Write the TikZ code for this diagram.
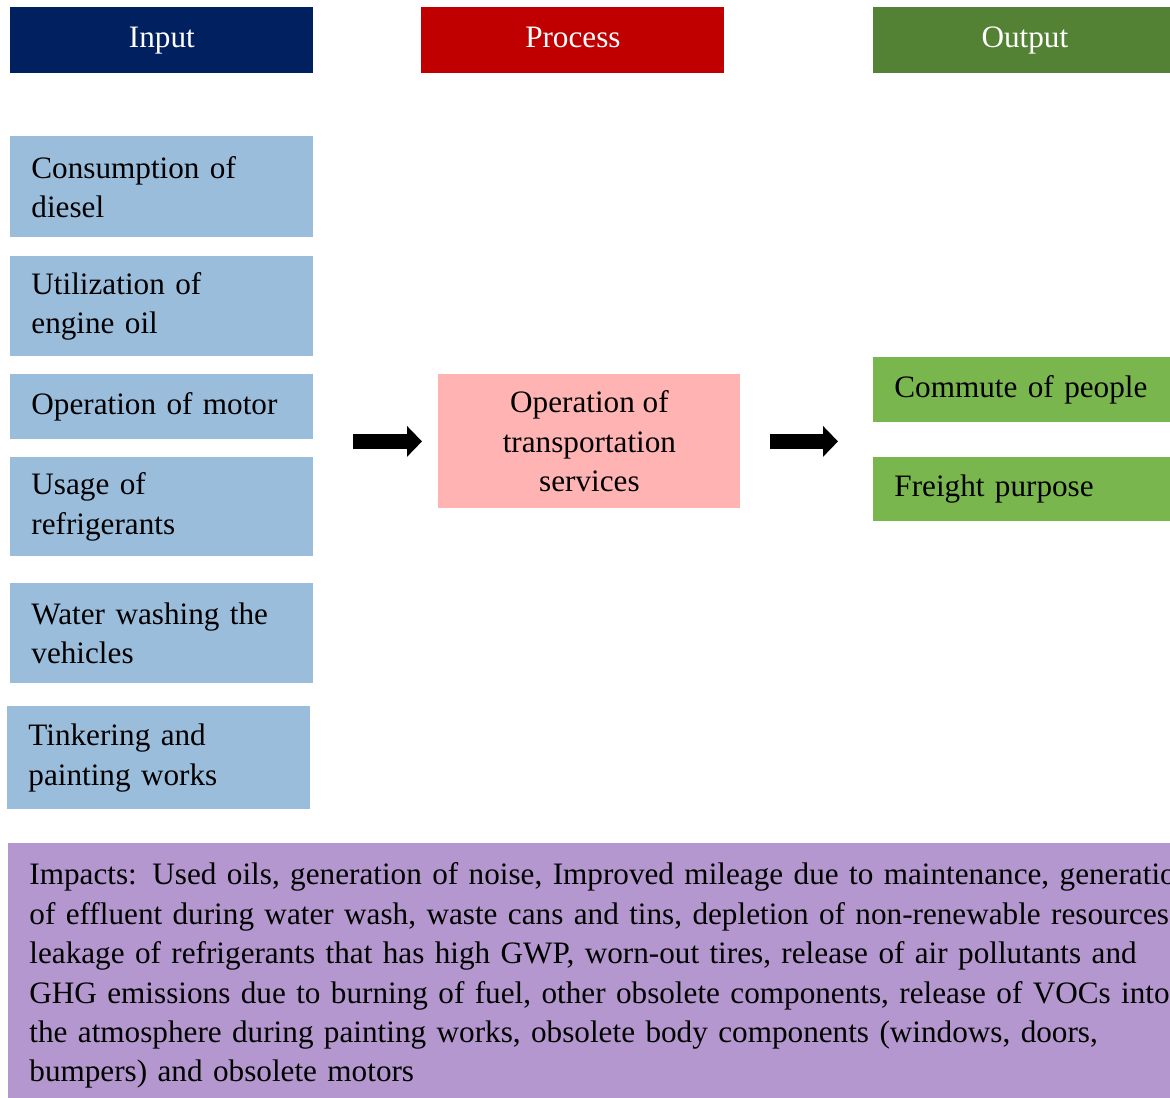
\documentclass[tikz,border=0pt]{standalone}
\usepackage{fontspec}
\setmainfont{Liberation Serif}
\usetikzlibrary{arrows.meta}

\definecolor{hdrblue}{RGB}{0,32,96}
\definecolor{hdrred}{RGB}{192,0,0}
\definecolor{hdrgreen}{RGB}{84,130,53}
\definecolor{inblue}{RGB}{155,189,220}
\definecolor{procpink}{RGB}{255,179,179}
\definecolor{outgreen}{RGB}{122,182,78}
\definecolor{imppurple}{RGB}{180,151,206}

\begin{document}
\begin{tikzpicture}[x=0.5pt,y=-0.5pt,
    every node/.style={font=\fontsize{15.6pt}{19.7pt}\selectfont, inner sep=0pt},
    hdr/.style={anchor=north west, minimum width=151.5pt, minimum height=33pt, text=white,
        text height=11pt, text depth=4pt},
    inbox/.style={anchor=north west, fill=inblue, text width=130.5pt, inner xsep=10.5pt, align=left},
    outbox/.style={anchor=north west, fill=outgreen, text width=139pt, inner xsep=10.5pt, align=left},
    bigarrow/.style={line width=7.5pt, -{Triangle[length=7.5pt,width=15pt]}}]

    \useasboundingbox (0,0) rectangle (1170,1097);
    \clip (0,0) rectangle (1170,1097);

    % Column headers
    \node[hdr, fill=hdrblue] (hin) at (10,7) {Input};
    \node[hdr, fill=hdrred] (hproc) at (421,7) {Process};
    \node[hdr, fill=hdrgreen] (hout) at (873,7) {Output};

    % Inputs
    \node[inbox, minimum height=50.5pt] (diesel) at (10,136) {Consumption of\\diesel};
    \node[inbox, minimum height=50pt] (oil) at (10,256) {Utilization of\\engine oil};
    \node[inbox, minimum height=32.5pt] (motor) at (10,374) {Operation of motor};
    \node[inbox, minimum height=49.5pt] (refrig) at (10,457) {Usage of\\refrigerants};
    \node[inbox, minimum height=50pt] (wash) at (10,583) {Water washing the\\vehicles};
    \node[inbox, minimum height=51.5pt] (paint) at (7,706) {Tinkering and\\painting works};

    % Process
    \node[anchor=north west, fill=procpink, minimum width=151pt, minimum height=67pt, align=center,
        text depth=0pt] (proc) at (438,374) {Operation of\\transportation\\services};

    % Outputs
    \node[outbox, minimum height=32.5pt] (commute) at (873,357) {Commute of people};
    \node[outbox, minimum height=32pt] (freight) at (873,457) {Freight purpose};

    % Flow arrows
    \draw[bigarrow, shorten <=19.5pt, shorten >=8pt] (motor.east |- proc.west) -- (proc.west);
    \draw[bigarrow, shorten <=14.5pt, shorten >=17.5pt] (proc.east) -- (proc.east -| commute.west);

    % Impacts
    \node[anchor=north west, fill=imppurple, text width=660pt, inner xsep=10.5pt,
        inner ysep=9.8pt, align=left] (impacts) at (8,843)
        {Impacts: Used oils, generation of noise, Improved mileage due to maintenance, generation\\
        of effluent during water wash, waste cans and tins, depletion of non-renewable resources,\\
        leakage of refrigerants that has high GWP, worn-out tires, release of air pollutants and\\
        GHG emissions due to burning of fuel, other obsolete components, release of VOCs into\\
        the atmosphere during painting works, obsolete body components (windows, doors,\\
        bumpers) and obsolete motors};
\end{tikzpicture}
\end{document}
